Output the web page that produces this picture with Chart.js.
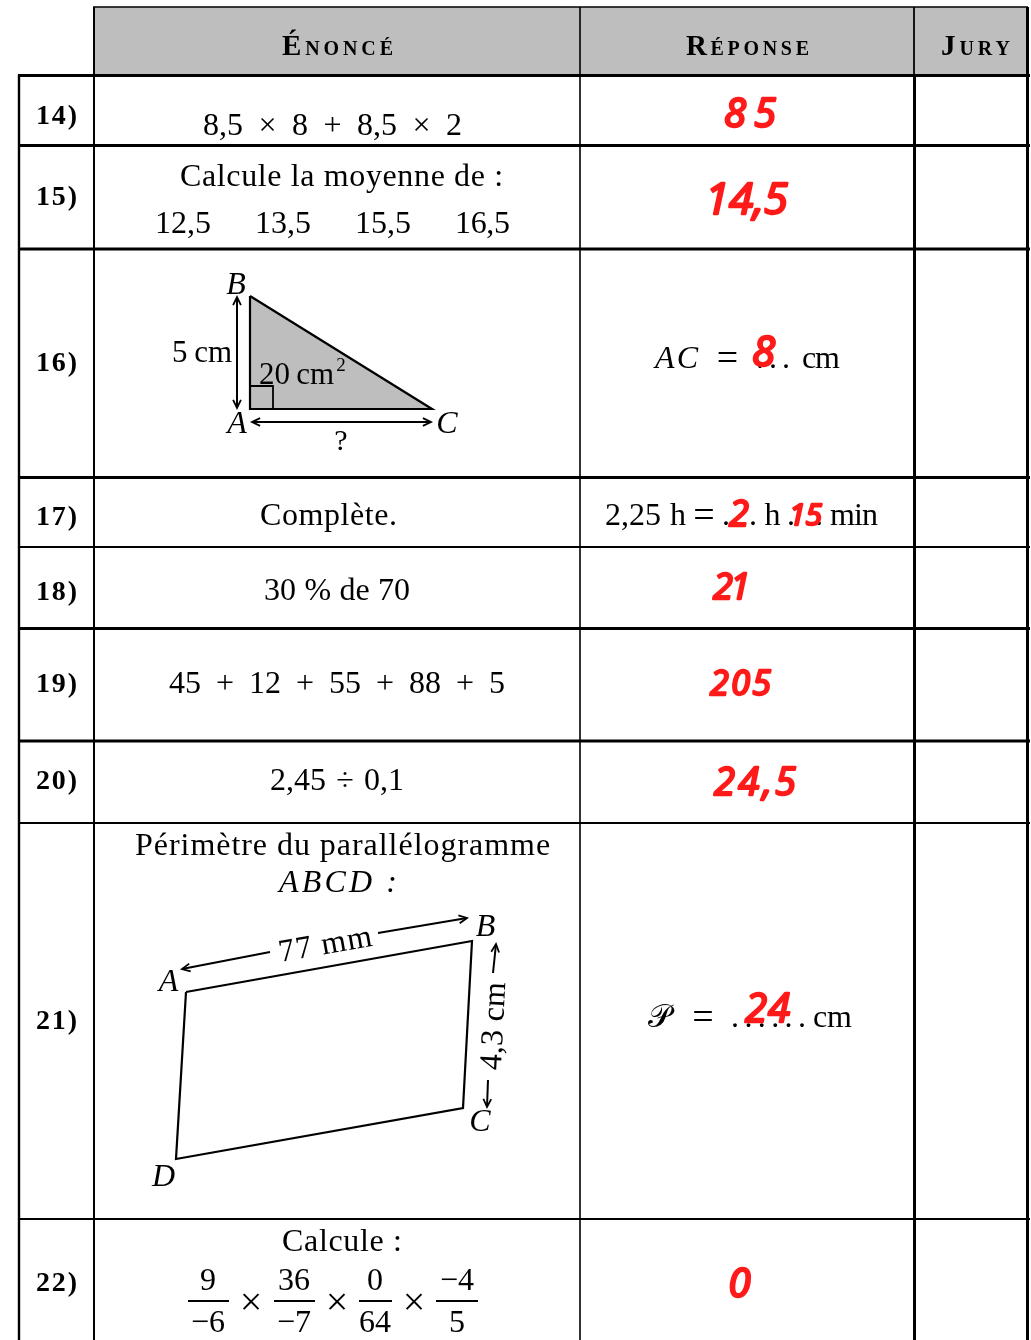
<!DOCTYPE html>
<html><head><meta charset="utf-8">
<style>html,body{margin:0;padding:0;background:#fff}canvas{display:block}</style>
<script src="https://cdn.jsdelivr.net/npm/chart.js@4"></script>
</head><body><canvas id="c" width="1031" height="1340"></canvas>
<script>
// ---- content ----
const headers = ["Énoncé", "Réponse", "Jury"];
const rowLabels = ["14)", "15)", "16)", "17)", "18)", "19)", "20)", "21)", "22)"];
const statements = ["8,5 × 8 + 8,5 × 2", "Calcule la moyenne de :", "Complète.", "30 % de 70",
  "45 + 12 + 55 + 88 + 5", "2,45 ÷ 0,1", "Périmètre du parallélogramme", "ABCD :", "Calcule :"];
const meanValues = ["12,5", "13,5", "15,5", "16,5"];
const fractionTop = ["9", "36", "0", "−4"];
const fractionBottom = ["−6", "−7", "64", "5"];
const answers = ["85", "14,5", "8", "2", "15", "21", "205", "24,5", "24", "0"];

// ---- layout in page units, used as the chart's data space ----
const W = 1031, H = 1340;
const datasets = [];
function path(pts, o) {
  o = o || {};
  datasets.push({
    data: pts.map(p => ({x: p[0], y: p[1]})), showLine: true, pointRadius: 0, clip: false,
    borderColor: o.color || "#000", borderWidth: o.w || 2, tension: 0,
    fill: o.fill ? "shape" : false, backgroundColor: o.fill || "transparent",
    borderJoinStyle: "miter", borderCapStyle: "butt",
    order: -datasets.length
  });
}
function arrow(x1, y1, x2, y2, both) {
  path([[x1, y1], [x2, y2]], {w: 2});
  const head = (ax, ay, bx, by) => {
    const a = Math.atan2(by - ay, bx - ax), L = 9, s = 0.45;
    path([[bx - L * Math.cos(a - s), by - L * Math.sin(a - s)], [bx, by],
          [bx - L * Math.cos(a + s), by - L * Math.sin(a + s)]], {w: 1.8});
  };
  head(x1, y1, x2, y2);
  if (both) head(x2, y2, x1, y1);
}
// header band and table rules
path([[94, 7], [1027, 7], [1027, 75], [94, 75], [94, 7]], {fill: "#bebebe", color: "#bebebe", w: 0.1});
path([[93, 7], [1028, 7]], {w: 1.5});
[[75.5, 3], [145.5, 3], [249, 3], [477.5, 3], [547, 2], [628.5, 3], [741, 3], [823, 2], [1219, 2]]
  .forEach(r => path([[18, r[0]], [1030, r[0]]], {w: r[1]}));
path([[19, 75], [19, H]], {w: 2.4});
path([[94, 7], [94, H]], {w: 2});
path([[580, 7], [580, H]], {w: 1.6});
path([[914, 7], [914, 75]], {w: 1});
path([[914.5, 75], [914.5, H]], {w: 3});
path([[1027.5, 7], [1027.5, H]], {w: 3});
// triangle (exercise 16)
path([[250, 296], [432, 409], [250, 409], [250, 296]], {fill: "#bebebe", w: 2.2});
path([[250, 386], [273, 386], [273, 409]], {w: 1.8});
arrow(237, 297, 237, 408, true);
arrow(252, 422, 431, 422, true);
// parallelogram (exercise 21)
path([[186, 992], [472, 941], [463, 1108], [176, 1159], [186, 992]], {w: 2.2});
arrow(270, 952, 182, 969);
arrow(378, 933, 467, 918);
arrow(493, 973, 496, 944);
arrow(488, 1080, 487, 1107);
// fraction bars (exercise 22)
[[188, 229], [274, 315], [359, 392], [436, 478]].forEach(b => path([[b[0], 1301], [b[1], 1301]], {w: 2}));

// ---- text ----
const SERIF = '"Liberation Serif"';
const R = s => `${s}px ${SERIF}`, IT = s => `italic ${s}px ${SERIF}`;
const BD = s => `bold ${s}px ${SERIF}`, SC = s => `small-caps bold ${s}px ${SERIF}`;
const HAND = s => `italic ${s}px "Open Sans"`;
const texts = [
  [headers[0], 282, 393, 55, SC(29)], [headers[1], 686, 809, 55, SC(29)], [headers[2], 941, 1010, 55, SC(29)],
  [rowLabels[0], 36, 77, 124, BD(28)], [rowLabels[1], 36, 77, 205, BD(28)], [rowLabels[2], 36, 77, 371, BD(28)],
  [rowLabels[3], 36, 77, 525, BD(28)], [rowLabels[4], 36, 77, 600, BD(28)], [rowLabels[5], 36, 77, 692, BD(28)],
  [rowLabels[6], 36, 77, 789, BD(28)], [rowLabels[7], 36, 77, 1029, BD(28)], [rowLabels[8], 36, 77, 1291, BD(28)],
  [statements[0], 203, 462, 135, R(32), "w"],
  [statements[1], 180, 503, 186, R(32)],
  [meanValues[0], 155, 211, 233, R(32)], [meanValues[1], 255, 311, 233, R(32)],
  [meanValues[2], 355, 411, 233, R(32)], [meanValues[3], 455, 510, 233, R(32)],
  ["B", 225, 247, 294, IT(32)], ["A", 226, 248, 433, IT(32)], ["C", 435, 459, 433, IT(32)],
  ["5 cm", 172, 232, 362, R(31), "w"], ["20 cm", 259, 334, 384, R(31), "w"], ["2", 335, 347, 371, R(19)],
  ["?", 334, 348, 450, R(30)],
  ["AC", 655, 698, 368, IT(32)], ["=", 717, 738, 370, R(38)], [". . .", 756, 790, 368, R(32)], ["cm", 802, 840, 368, R(32)],
  [statements[2], 260, 397, 525, R(32)],
  ["2,25 h", 605, 686, 525, R(32), "w"], ["=", 693, 715, 527, R(38)], [".", 723, 729, 525, R(32)], [".", 750, 756, 525, R(32)],
  ["h", 765, 780, 525, R(32)], [".", 788, 794, 525, R(32)], [".", 816, 822, 525, R(32)], ["min", 830, 878, 525, R(32)],
  [statements[3], 264, 410, 600, R(32), "w"],
  [statements[4], 169, 505, 693, R(32), "w"],
  [statements[5], 270, 404, 790, R(32), "w"],
  [statements[6], 135, 550, 855, R(32)],
  [statements[7], 279, 397, 892, IT(32)],
  ["A", 158, 179, 991, IT(32)], ["B", 474, 497, 936, IT(32)], ["C", 468, 492, 1131, IT(32)], ["D", 151, 176, 1186, IT(32)],
  ["𝒫", 644, 674, 1027, `32px "DejaVu Serif"`], ["=", 692, 714, 1029, R(38)],
  [". . . . . .", 731, 806, 1027, R(32)], ["cm", 813, 852, 1027, R(32)],
  [statements[8], 282, 402, 1251, R(32)],
];
// centred items: fractions and the × signs between them
const centred = [
  [fractionTop[0], 208, 1290, 32], [fractionTop[1], 294, 1290, 32], [fractionTop[2], 375, 1290, 32], [fractionTop[3], 457, 1290, 32],
  [fractionBottom[0], 208, 1332, 32], [fractionBottom[1], 294, 1332, 32], [fractionBottom[2], 375, 1332, 32], [fractionBottom[3], 457, 1332, 32],
  ["×", 251, 1315, 40], ["×", 337, 1315, 40], ["×", 414, 1315, 40],
];
const rotated = [
  ["77 mm", 325, 943, -10, 94], ["4,3 cm", 492, 1026, -87, 88],
];
// handwritten answers: text, left, right, baseline, size
const red = [
  [answers[0], 724, 776, 127, 40], [answers[1], 705, 788, 214, 44], [answers[2], 753, 774, 366, 42],
  [answers[3], 730, 748, 526, 36], [answers[4], 789, 822, 525, 30], [answers[5], 713, 750, 599, 36],
  [answers[6], 710, 771, 695, 34], [answers[7], 714, 796, 795, 38], [answers[8], 745, 790, 1022, 40],
  [answers[9], 727, 752, 1297, 40],
];

function fit(ctx, s, x0, x1, y, mode, stroke) {
  ctx.letterSpacing = "0px"; ctx.wordSpacing = "0px";
  const chars = [...s].length, w = ctx.measureText(s).width, spaces = s.split(" ").length - 1;
  let dx = 0;
  if (mode === "w" && spaces) {
    ctx.wordSpacing = ((x1 - x0 - w) / spaces).toFixed(2) + "px";
  } else if (chars > 1) {
    ctx.letterSpacing = ((x1 - x0 - w) / (chars - 1)).toFixed(2) + "px";
  } else {
    dx = (x1 - x0 - w) / 2;
  }
  ctx.textAlign = "left";
  ctx.fillText(s, x0 + dx, y);
  if (stroke) ctx.strokeText(s, x0 + dx, y);
}
const writer = {
  id: "writer",
  afterDatasetsDraw(chart) {
    const ctx = chart.ctx, sx = chart.scales.x, sy = chart.scales.y;
    const X = v => sx.getPixelForValue(v), Y = v => sy.getPixelForValue(v);
    ctx.save();
    ctx.fillStyle = "#000";
    ctx.textBaseline = "alphabetic";
    texts.forEach(t => { ctx.font = t[4]; fit(ctx, t[0], X(t[1]), X(t[2]), Y(t[3]), t[5]); });
    ctx.letterSpacing = "0px"; ctx.wordSpacing = "0px";
    ctx.textAlign = "center";
    centred.forEach(t => { ctx.font = R(t[3]); ctx.fillText(t[0], X(t[1]), Y(t[2])); });
    rotated.forEach(t => {
      ctx.save();
      ctx.translate(X(t[1]), Y(t[2]));
      ctx.rotate(t[3] * Math.PI / 180);
      ctx.font = R(32);
      fit(ctx, t[0], -t[4] / 2, t[4] / 2, 11);
      ctx.restore();
    });
    ctx.fillStyle = "#ff1a1a"; ctx.strokeStyle = "#ff1a1a"; ctx.lineJoin = "round"; ctx.lineCap = "round"; ctx.lineWidth = 2.4;
    red.forEach(t => {
      ctx.font = HAND(t[4]);
      fit(ctx, t[0], X(t[1]), X(t[2]), Y(t[3]), null, true);
    });
    ctx.restore();
  }
};
new Chart(document.getElementById("c"), {
  type: "scatter",
  data: {datasets},
  options: {
    responsive: false, animation: false,
    layout: {padding: 0},
    plugins: {legend: {display: false}, tooltip: {enabled: false}, title: {display: false}},
    scales: {
      x: {type: "linear", min: 0, max: W, display: false},
      y: {type: "linear", min: 0, max: H, reverse: true, display: false}
    }
  },
  plugins: [writer]
});
</script></body></html>
